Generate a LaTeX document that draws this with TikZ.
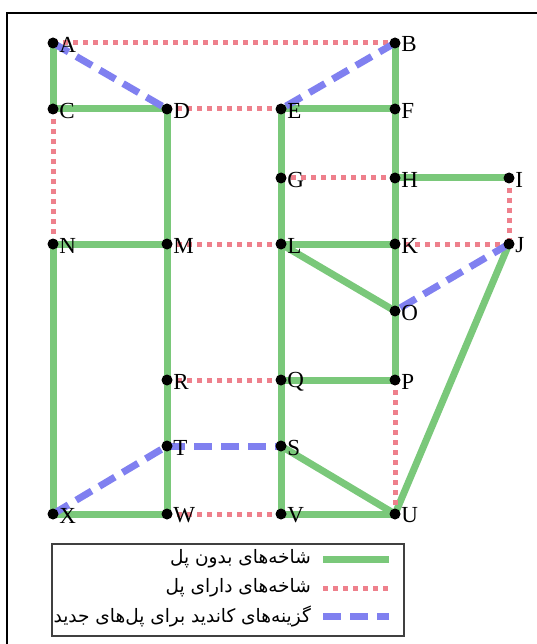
\documentclass[tikz,border=0pt]{standalone}
\usepackage{fontspec}
\setmainfont{Liberation Serif}
\newfontfamily\arabicfont[Script=Arabic]{DejaVu Sans}
\TeXXeTstate=1
\definecolor{grn}{RGB}{122,200,122}
\definecolor{pnk}{RGB}{238,128,140}
\definecolor{blu}{RGB}{128,128,240}
\pgfdeclarelayer{bg}
\pgfsetlayers{bg,main}
\tikzset{
  nob/.style={line width=7pt, draw=grn},
  brg/.style={line width=5pt, draw=pnk, dash pattern=on 5pt off 5pt},
  cand/.style={line width=7pt, draw=blu, dash pattern=on 18pt off 9pt},
  dot/.style={circle, fill=black, inner sep=0pt, minimum size=11pt},
  lbl/.style={font=\fontsize{23}{23}\selectfont, inner sep=0.5pt, yshift=-1.5pt, text=black},
  leg/.style={font=\arabicfont\fontsize{18.5}{18.5}\selectfont, anchor=east, inner sep=0pt},
}
\begin{document}
\begin{tikzpicture}[x=1pt,y=-1pt]
\useasboundingbox (0,0) rectangle (537,644);
\draw[line width=2pt] (7,13) rectangle (570,680);
% nodes
\foreach \n/\x/\y in {A/53/43, B/395/43, C/53/109, D/167/109, E/281/109, F/395/109,
  G/281/178, H/395/178, I/509/178, N/53/244, M/167/244, L/281/244, K/395/244, J/509/244,
  O/395/311, R/167/380, Q/281/380, P/395/380, T/167/446, S/281/446,
  X/53/514, W/167/514, V/281/514, U/395/514}
  \node[dot, label={[lbl, label distance=0pt]right:\n}] (\n) at (\x,\y) {};
\begin{pgfonlayer}{bg}
% without bridge
\foreach \a/\b in {A/C, C/D, D/M, M/R, R/T, T/W, E/F, E/G, G/L, L/Q, Q/S, S/V,
  B/F, F/H, H/K, K/O, O/P, H/I, N/M, L/K, L/O, Q/P, S/U, J/U, X/W, V/U, N/X}
  \draw[nob] (\a.center) -- (\b.center);
% with bridge
\foreach \a/\b in {A/B, D/E, C/N, G/H, I/J, M/L, K/J, R/Q, W/V, P/U}
  \draw[brg] (\a.center) -- (\b.center);
% candidates
\foreach \a/\b in {A/D, B/E, J/O, X/T, T/S}
  \draw[cand] (\a.center) -- (\b.center);
\end{pgfonlayer}
% legend
\node[draw=black!75, line width=1.5pt, minimum width=352pt, minimum height=92pt, anchor=north west] (legbox) at (51,543) {};
\coordinate (g1) at (323,559); \coordinate (g2) at (389,559);
\coordinate (r1) at (323,588); \coordinate (r2) at (389,588);
\coordinate (b1) at (323,616); \coordinate (b2) at (389,616);
\draw[nob] (g1) -- (g2);
\draw[brg] (r1) -- (r2);
\draw[cand] (b1) -- (b2);
\node[leg] (t1) at (311,559) {\beginR شاخه‌های بدون پل\endR};
\node[leg] (t2) at (311,588) {\beginR شاخه‌های دارای پل\endR};
\node[leg] (t3) at (311,616) {\beginR گزینه‌های کاندید برای پل‌های جدید\endR};
\end{tikzpicture}
\end{document}
